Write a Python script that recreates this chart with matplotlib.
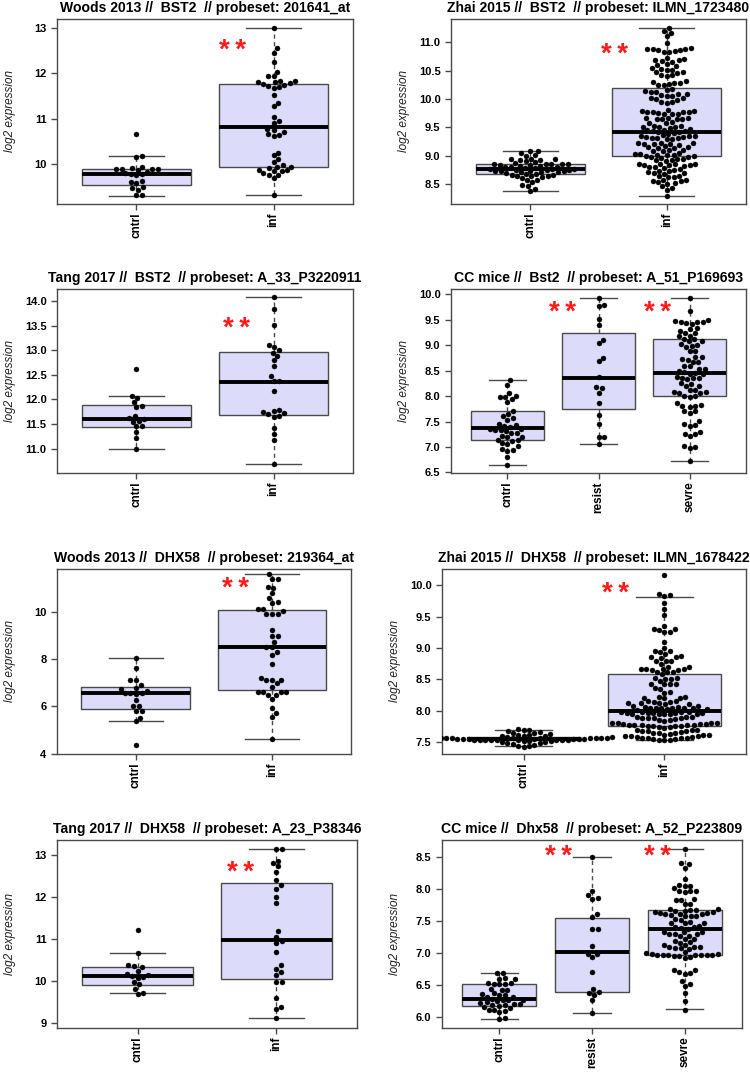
import numpy as np
import matplotlib
matplotlib.use("Agg")
import matplotlib.pyplot as plt
from matplotlib.transforms import offset_copy

plt.rcParams['font.family'] = ['Liberation Sans', 'DejaVu Sans']

# ---------------- data ----------------
# Panel 1: Woods 2013 BST2
woods_bst2_groups = ["cntrl", "inf"]
woods_bst2_cntrl = [10.67, 10.18, 10.16, 9.95, 9.91, 9.90, 9.90, 9.89, 9.89, 9.88, 9.83, 9.80,
                    9.79, 9.78, 9.76, 9.64, 9.62, 9.59, 9.50, 9.48, 9.44, 9.33, 9.32]
woods_bst2_inf = [13.00, 12.55, 12.45, 12.25, 12.03, 11.94, 11.93, 11.84, 11.83, 11.80, 11.80, 11.78,
                  11.76, 11.75, 11.73, 11.70, 11.68, 11.52, 11.35, 11.28, 11.05, 10.95, 10.90, 10.78,
                  10.76, 10.72, 10.66, 10.65, 10.63, 10.26, 10.20, 10.12, 10.05, 9.98, 9.95, 9.94,
                  9.92, 9.88, 9.87, 9.86, 9.85, 9.80, 9.77, 9.76, 9.70, 9.33]
# box stats: [whisker low, q1, median, q3, whisker high]
woods_bst2_stats = [[9.31, 9.55, 9.79, 9.89, 10.18], [9.33, 9.94, 10.81, 11.76, 13.00]]

# Panel 2: Zhai 2015 BST2
zhai_bst2_groups = ["cntrl", "inf"]
zhai_bst2_cntrl = [9.09, 9.08, 9.05, 9.01, 9.00, 8.95, 8.94, 8.94, 8.93, 8.93, 8.90, 8.89, 8.87, 8.86,
                   8.86, 8.86, 8.85, 8.85, 8.84, 8.83, 8.82, 8.82, 8.81, 8.81, 8.80, 8.79, 8.78, 8.77,
                   8.76, 8.76, 8.75, 8.75, 8.75, 8.74, 8.74, 8.73, 8.73, 8.72, 8.72, 8.71, 8.70, 8.68,
                   8.67, 8.66, 8.66, 8.65, 8.65, 8.64, 8.62, 8.60, 8.58, 8.57, 8.53, 8.49, 8.47, 8.42,
                   8.38]
zhai_bst2_inf = [11.26, 11.20, 11.17, 11.11, 10.98,
                 10.90, 10.89, 10.89, 10.88, 10.87, 10.87, 10.84, 10.83, 10.82, 10.73, 10.71,
                 10.69, 10.68, 10.67, 10.66, 10.61, 10.60, 10.59, 10.54, 10.53, 10.52, 10.51,
                 10.48, 10.47, 10.46, 10.43, 10.42, 10.41, 10.31, 10.30, 10.29, 10.28,
                 10.26, 10.25, 10.24, 10.18, 10.16, 10.14, 10.13, 10.12,
                 10.09, 10.08, 10.07, 10.06, 10.05, 10.02, 10.01, 10.00, 9.99, 9.95, 9.94, 9.93,
                 9.80, 9.79, 9.79, 9.78, 9.78, 9.77, 9.77, 9.75, 9.74, 9.74, 9.73,
                 9.67, 9.66, 9.66, 9.65, 9.65, 9.64, 9.64, 9.59, 9.58, 9.57,
                 9.53, 9.52, 9.51, 9.51, 9.50, 9.49, 9.47, 9.46, 9.45, 9.44,
                 9.43, 9.42, 9.41, 9.40, 9.39,
                 9.36, 9.35, 9.35, 9.34, 9.33, 9.33, 9.32, 9.31, 9.31, 9.30, 9.29,
                 9.23, 9.22, 9.22, 9.21, 9.21, 9.20, 9.19,
                 9.17, 9.16, 9.15, 9.14, 9.13, 9.11, 9.10, 9.09, 9.08,
                 9.04, 9.03, 9.03, 9.02, 9.02, 9.01, 9.00,
                 8.99, 8.98, 8.97, 8.96, 8.95, 8.94, 8.93, 8.92, 8.91,
                 8.86, 8.86, 8.85, 8.85, 8.84, 8.84, 8.83,
                 8.82, 8.81, 8.80, 8.79, 8.76, 8.75, 8.74, 8.73,
                 8.71, 8.70, 8.69, 8.68, 8.65, 8.64, 8.63, 8.62,
                 8.58, 8.57, 8.56, 8.55, 8.53, 8.52, 8.51, 8.46, 8.44, 8.40, 8.29]
zhai_bst2_stats = [[8.38, 8.67, 8.77, 8.86, 9.08], [8.29, 9.00, 9.41, 10.19, 11.26]]

# Panel 3: Tang 2017 BST2
tang_bst2_groups = ["cntrl", "inf"]
tang_bst2_cntrl = [12.61, 12.08, 12.03, 11.94, 11.87, 11.84, 11.66, 11.63, 11.61, 11.57, 11.55,
                   11.46, 11.46, 11.34, 11.22, 10.99]
tang_bst2_inf = [14.08, 13.83, 13.51, 13.10, 13.06, 13.00, 12.95, 12.89, 12.81, 12.67, 12.47, 12.38,
                 12.37, 12.17, 11.78, 11.77, 11.74, 11.72, 11.70, 11.66, 11.65, 11.42, 11.30, 11.17,
                 10.69]
tang_bst2_stats = [[10.99, 11.45, 11.61, 11.89, 12.08], [10.69, 11.68, 12.36, 12.97, 14.08]]

# Panel 4: CC mice Bst2
cc_bst2_groups = ["cntrl", "resist", "sevre"]
cc_bst2_cntrl = [8.31, 8.21, 8.05, 8.01, 7.99, 7.98, 7.95, 7.88, 7.70, 7.64, 7.60, 7.56, 7.53, 7.45,
                 7.43, 7.42, 7.40, 7.36, 7.35, 7.33, 7.33, 7.32, 7.28, 7.27, 7.22, 7.20, 7.19, 7.14,
                 7.13, 7.12, 7.07, 7.06, 7.01, 6.96, 6.95, 6.92, 6.81, 6.65]
cc_bst2_resist = [9.93, 9.79, 9.77, 9.51, 9.39, 9.10, 9.05, 8.75, 8.69, 8.37, 8.18, 8.15, 8.06, 7.87,
                  7.63, 7.45, 7.20, 7.19, 7.06]
cc_bst2_sevre = [9.93, 9.66, 9.50, 9.47, 9.46, 9.45, 9.45, 9.44, 9.42, 9.33, 9.32, 9.28, 9.24, 9.23,
                 9.18, 9.17, 9.12, 9.11, 9.08, 9.07, 9.02, 9.01, 8.98, 8.97, 8.89, 8.88, 8.77, 8.76,
                 8.72, 8.71, 8.67, 8.67, 8.58, 8.58, 8.54, 8.53, 8.50, 8.47, 8.46, 8.44, 8.43, 8.37,
                 8.36, 8.36, 8.35, 8.33, 8.25, 8.24, 8.20, 8.19, 8.12, 8.11, 8.08, 8.07, 8.06, 8.05,
                 8.01, 8.00, 7.99, 7.87, 7.82, 7.81, 7.81, 7.78, 7.71, 7.70, 7.67, 7.52, 7.45, 7.44,
                 7.42, 7.30, 7.26, 7.25, 7.21, 7.01, 7.00, 6.98, 6.73]
cc_bst2_stats = [[6.65, 7.13, 7.37, 7.70, 8.31], [7.06, 7.74, 8.36, 9.23, 9.93],
                 [6.73, 8.01, 8.46, 9.12, 9.93]]

# Panel 5: Woods 2013 DHX58
woods_dhx58_groups = ["cntrl", "inf"]
woods_dhx58_cntrl = [8.06, 7.62, 7.13, 7.11, 6.90, 6.79, 6.75, 6.65, 6.58, 6.57, 6.55, 6.54, 6.27,
                     6.02, 6.00, 5.81, 5.79, 5.52, 5.38, 4.35]
woods_dhx58_inf = [11.59, 11.39, 11.38, 11.04, 11.03, 10.80, 10.59, 10.41, 10.40, 10.13, 10.12, 10.04,
                   9.93, 9.93, 9.92, 9.24, 8.97, 8.96, 8.72, 8.51, 8.50, 8.30, 8.17, 7.79, 7.21, 7.11,
                   7.11, 7.10, 6.97, 6.83, 6.62, 6.61, 6.61, 6.60, 6.49, 6.48, 6.32, 5.93, 5.70, 5.54,
                   4.61]
woods_dhx58_stats = [[5.38, 5.89, 6.56, 6.83, 8.06], [4.61, 6.68, 8.51, 10.07, 11.59]]

# Panel 6: Zhai 2015 DHX58
zhai_dhx58_groups = ["cntrl", "inf"]
zhai_dhx58_cntrl = [7.71, 7.70, 7.69, 7.68, 7.66, 7.65, 7.64, 7.63, 7.62, 7.61, 7.60, 7.60, 7.59, 7.59,
                    7.58, 7.58, 7.58, 7.57, 7.57, 7.57, 7.57, 7.56, 7.56, 7.56, 7.56, 7.56, 7.55, 7.55,
                    7.55, 7.55, 7.55, 7.55, 7.55, 7.54, 7.54, 7.54, 7.54, 7.54, 7.53, 7.53, 7.53, 7.53,
                    7.52, 7.52, 7.51, 7.50, 7.50, 7.49, 7.48, 7.47, 7.46, 7.44, 7.43, 7.42]
zhai_dhx58_inf = [10.16, 9.86, 9.85, 9.83, 9.72, 9.63, 9.52, 9.35, 9.31, 9.30, 9.29, 9.26, 9.25, 9.10,
                  9.00, 8.95, 8.95, 8.94, 8.90, 8.87, 8.85, 8.85, 8.84, 8.80, 8.80, 8.79, 8.75, 8.70,
                  8.70, 8.67, 8.67, 8.66, 8.66, 8.65, 8.65, 8.62, 8.62, 8.61, 8.58, 8.52, 8.52, 8.51,
                  8.51, 8.48, 8.43, 8.43, 8.42, 8.42, 8.36, 8.35, 8.30, 8.29, 8.22, 8.22, 8.21, 8.21,
                  8.20, 8.15, 8.15, 8.14, 8.14, 8.13, 8.12, 8.12, 8.11, 8.11, 8.07, 8.07, 8.06, 8.06,
                  8.05, 8.05, 8.05, 8.04, 8.04, 8.04, 8.02, 8.02, 8.01, 7.98, 7.98, 7.98, 7.98, 7.97,
                  7.97, 7.97, 7.97, 7.96, 7.95, 7.95, 7.95, 7.94, 7.94, 7.90, 7.90, 7.90, 7.89, 7.89,
                  7.88, 7.88, 7.87, 7.85, 7.85, 7.84, 7.80, 7.80, 7.80, 7.80, 7.79, 7.79, 7.79, 7.78,
                  7.77, 7.77, 7.77, 7.77, 7.76, 7.76, 7.76, 7.75, 7.74, 7.74, 7.73,
                  7.70, 7.70, 7.69, 7.68, 7.68, 7.67, 7.66, 7.65, 7.65, 7.64, 7.63, 7.62, 7.61, 7.61,
                  7.60, 7.60, 7.59, 7.58, 7.58, 7.57, 7.57, 7.56, 7.56, 7.55, 7.55, 7.54, 7.54, 7.53]
zhai_dhx58_stats = [[7.43, 7.53, 7.55, 7.58, 7.69], [7.54, 7.76, 8.00, 8.59, 9.82]]

# Panel 7: Tang 2017 DHX58
tang_dhx58_groups = ["cntrl", "inf"]
tang_dhx58_cntrl = [11.22, 10.67, 10.38, 10.35, 10.34, 10.25, 10.16, 10.15, 10.13, 10.09, 10.08, 9.97,
                    9.92, 9.82, 9.71, 9.70]
tang_dhx58_inf = [13.16, 13.15, 12.88, 12.82, 12.74, 12.61, 12.41, 12.29, 12.20, 12.01, 11.86, 11.19,
                  11.06, 10.95, 10.92, 10.69, 10.38, 10.30, 10.21, 10.15, 9.99, 9.98, 9.60, 9.39, 9.33,
                  9.11]
tang_dhx58_stats = [[9.71, 9.91, 10.13, 10.34, 10.66], [9.11, 10.06, 10.98, 12.34, 13.15]]

# Panel 8: CC mice Dhx58
cc_dhx58_groups = ["cntrl", "resist", "sevre"]
cc_dhx58_cntrl = [6.69, 6.68, 6.61, 6.60, 6.59, 6.53, 6.53, 6.52, 6.52, 6.51, 6.44, 6.43, 6.42, 6.37,
                  6.36, 6.35, 6.34, 6.32, 6.31, 6.28, 6.27, 6.27, 6.26, 6.25, 6.23, 6.22, 6.20, 6.20,
                  6.19, 6.19, 6.17, 6.15, 6.14, 6.11, 6.11, 6.10, 6.08, 5.98, 5.97]
cc_dhx58_resist = [8.49, 7.96, 7.90, 7.85, 7.84, 7.61, 7.56, 7.38, 7.37, 7.11, 6.99, 6.98, 6.93, 6.70,
                   6.44, 6.39, 6.38, 6.34, 6.26, 6.07]
cc_dhx58_sevre = [8.62, 8.40, 8.38, 8.33, 8.15, 8.06, 8.05, 8.04, 8.01, 7.97, 7.96, 7.96, 7.95, 7.84,
                  7.83, 7.83, 7.77, 7.76, 7.68, 7.68, 7.67, 7.67, 7.66, 7.65, 7.64, 7.64, 7.63, 7.62,
                  7.61, 7.60, 7.60, 7.59, 7.58, 7.58, 7.57, 7.53, 7.52, 7.48, 7.47, 7.46, 7.46, 7.42,
                  7.41, 7.41, 7.39, 7.38, 7.33, 7.32, 7.32, 7.30, 7.30, 7.29, 7.27, 7.26, 7.22, 7.21,
                  7.18, 7.17, 7.16, 7.13, 7.12, 7.10, 7.09, 7.09, 7.08, 7.07, 7.06, 7.01, 7.00, 6.99,
                  6.98, 6.97, 6.97, 6.97, 6.97, 6.96, 6.96, 6.96, 6.95, 6.95, 6.93, 6.92, 6.74, 6.73,
                  6.70, 6.69, 6.67, 6.57, 6.51, 6.49, 6.38, 6.25, 6.11]
cc_dhx58_stats = [[5.97, 6.18, 6.28, 6.51, 6.69], [6.07, 6.39, 7.01, 7.55, 8.49],
                  [6.12, 6.96, 7.38, 7.67, 8.62]]

titles = ["Woods 2013 //  BST2  // probeset: 201641_at",
          "Zhai 2015 //  BST2  // probeset: ILMN_1723480",
          "Tang 2017 //  BST2  // probeset: A_33_P3220911",
          "CC mice //  Bst2  // probeset: A_51_P169693",
          "Woods 2013 //  DHX58  // probeset: 219364_at",
          "Zhai 2015 //  DHX58  // probeset: ILMN_1678422",
          "Tang 2017 //  DHX58  // probeset: A_23_P38346",
          "CC mice //  Dhx58  // probeset: A_52_P223809"]

# significance star positions (x in group units, y in data units)
stars = [[(1.70, 12.58)], [(1.62, 10.84)], [(1.73, 13.51)], [(1.60, 9.71), (2.65, 9.71)],
         [(1.73, 11.13)], [(1.65, 9.92)], [(1.74, 12.68)], [(1.64, 8.56), (2.71, 8.56)]]

# ---------------- layout ----------------
W, H = 750, 1073
rects = [(57, 19, 353, 204), (451, 19, 746, 204),
         (57, 289, 353, 473), (451, 289, 746, 473),
         (57, 569, 351, 754), (442, 569, 746, 754),
         (57, 840, 357, 1028), (442, 840, 742, 1028)]
ylims = [(9.13, 13.19), (8.15, 11.41), (10.51, 14.24), (6.49, 10.10),
         (3.98, 11.82), (7.31, 10.26), (8.88, 13.37), (5.83, 8.76)]
yticks = [[10, 11, 12, 13], [8.5, 9.0, 9.5, 10.0, 10.5, 11.0],
          [11.0, 11.5, 12.0, 12.5, 13.0, 13.5, 14.0], [6.5, 7.0, 7.5, 8.0, 8.5, 9.0, 9.5, 10.0],
          [4, 6, 8, 10], [7.5, 8.0, 8.5, 9.0, 9.5, 10.0], [9, 10, 11, 12, 13],
          [6.0, 6.5, 7.0, 7.5, 8.0, 8.5]]
yfmt = ["{:.0f}", "{:.1f}", "{:.1f}", "{:.1f}", "{:.0f}", "{:.1f}", "{:.0f}", "{:.1f}"]

panels = [
    (woods_bst2_groups, [woods_bst2_cntrl, woods_bst2_inf], woods_bst2_stats),
    (zhai_bst2_groups, [zhai_bst2_cntrl, zhai_bst2_inf], zhai_bst2_stats),
    (tang_bst2_groups, [tang_bst2_cntrl, tang_bst2_inf], tang_bst2_stats),
    (cc_bst2_groups, [cc_bst2_cntrl, cc_bst2_resist, cc_bst2_sevre], cc_bst2_stats),
    (woods_dhx58_groups, [woods_dhx58_cntrl, woods_dhx58_inf], woods_dhx58_stats),
    (zhai_dhx58_groups, [zhai_dhx58_cntrl, zhai_dhx58_inf], zhai_dhx58_stats),
    (tang_dhx58_groups, [tang_dhx58_cntrl, tang_dhx58_inf], tang_dhx58_stats),
    (cc_dhx58_groups, [cc_dhx58_cntrl, cc_dhx58_resist, cc_dhx58_sevre], cc_dhx58_stats),
]

EDGE = "#4a4a4a"
BOXFILL = "#DCDCFA"
SPACING = 5.6  # px between point centres


def swarm_offsets(ypix, d):
    ypix = np.asarray(ypix, float)
    order = np.argsort(ypix, kind="stable")
    px, py = [], []
    xs = np.zeros(len(ypix))
    for i in order:
        y = ypix[i]
        cands = [0.0]
        nx, ndy = np.array([]), np.array([])
        if px:
            ax_ = np.array(px)
            ay_ = np.array(py)
            dy = np.abs(ay_ - y)
            m = dy < d
            nx, ndy = ax_[m], dy[m]
            if m.any():
                off = np.sqrt(d * d - ndy ** 2)
                cands = [0.0] + list(nx + off) + list(nx - off)
        cands = sorted(cands, key=lambda c: abs(c))
        chosen = 0.0
        for c in cands:
            if len(nx) == 0 or np.all((nx - c) ** 2 + ndy ** 2 >= d * d - 1e-6):
                chosen = c
                break
        xs[i] = chosen
        px.append(chosen)
        py.append(y)
    return xs


fig = plt.figure(figsize=(W / 100, H / 100), dpi=100)

for k, (groups, data, stats) in enumerate(panels):
    L, T, R, B = rects[k]
    ax = fig.add_axes([L / W, 1 - B / H, (R - L) / W, (B - T) / H])
    n = len(groups)
    pos = np.arange(1, n + 1)
    ax.set_xlim(0.5 - 0.04 * n, n + 0.5 + 0.04 * n)
    ax.set_ylim(*ylims[k])

    bstats = []
    for g, s in zip(groups, stats):
        bstats.append(dict(whislo=s[0], q1=s[1], med=s[2], q3=s[3], whishi=s[4], fliers=[], label=g))
    ax.bxp(bstats, positions=pos, widths=0.8, patch_artist=True, showfliers=False,
           boxprops=dict(facecolor=BOXFILL, edgecolor=EDGE, linewidth=1.0),
           medianprops=dict(color="black", linewidth=2.8, solid_capstyle="butt"),
           whiskerprops=dict(color=EDGE, linewidth=1.0, linestyle=(0, (3, 2.5))),
           capprops=dict(color=EDGE, linewidth=1.0), zorder=2)

    # beeswarm points
    x_per_px = 1.0 / (ax.transData.transform((1, 0))[0] - ax.transData.transform((0, 0))[0])
    for p, vals in zip(pos, data):
        vals = np.asarray(vals, float)
        ypix = ax.transData.transform(np.column_stack([np.zeros(len(vals)), vals]))[:, 1]
        offs = swarm_offsets(ypix, SPACING) * x_per_px
        ax.plot(p + offs, vals, linestyle="none", marker="o", ms=3.6, mfc="black",
                mec="black", mew=0.3, zorder=4)

    star_tr = offset_copy(ax.transData, fig=fig, x=0, y=-4, units="dots")
    for (sx, sy) in stars[k]:
        ax.text(sx, sy, "*\u2009*", color="#ff1a1a", fontsize=20, ha="center", va="center",
                fontweight="bold", zorder=5, transform=star_tr)

    ax.set_title(titles[k], fontsize=10.1, fontweight="bold", pad=5)
    ax.set_yticks(yticks[k])
    ax.set_yticklabels([yfmt[k].format(v) for v in yticks[k]], fontweight="bold", fontsize=8)
    ax.set_xticks(pos)
    ax.set_xticklabels(groups, rotation=90, fontweight="bold", fontsize=8.5)
    ax.tick_params(axis="both", length=4.5, width=1.0, color=EDGE)
    ax.tick_params(axis="x", pad=1.5)
    ax.tick_params(axis="y", pad=3)
    for sp in ax.spines.values():
        sp.set_color(EDGE)
        sp.set_linewidth(1.0)
    wpx = R - L
    ax.text(-47.0 / wpx, 0.5, "log2 expression", transform=ax.transAxes, rotation=90,
            ha="center", va="center", fontsize=8.5, style="italic", color="#222222")

fig.savefig("out.png", dpi=100)
